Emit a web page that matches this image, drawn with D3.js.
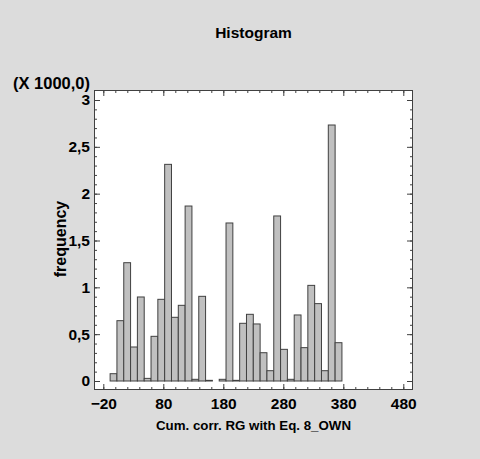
<html>
<head>
<meta charset="utf-8">
<script src="https://d3js.org/d3.v7.min.js"></script>
<style>
  body { margin: 0; background: #dcdcdc; }
  text { font-family: "Liberation Sans", Arial, sans-serif; font-weight: bold; fill: #000; }
</style>
</head>
<body>
<script>
  // histogram: 44 classes from -20 to 480
  const lowerLimit = -20;
  const upperLimit = 480;
  const freq = [0, 78, 644, 1263, 363, 897, 28, 477, 872, 2313, 680,
                808, 1868, 18, 904, 7, 0, 18, 1687, 7, 616,
                712, 609, 302, 110, 1762, 338, 18, 705, 356, 1021,
                826, 110, 2733, 409, 0, 0, 0, 0, 0, 0, 0, 0, 0];
  const xTicks = [-20, 80, 180, 280, 380, 480];
  const yTicks = [0, 500, 1000, 1500, 2000, 2500, 3000];
  const yTickLabels = ["0", "0,5", "1", "1,5", "2", "2,5", "3"];

  const w = 480, h = 459;
  const box = {left: 94, right: 413, top: 90, bottom: 390};

  const binW = (upperLimit - lowerLimit) / freq.length;
  const bins = freq.map((f, i) => ({x0: lowerLimit + i * binW, x1: lowerLimit + (i + 1) * binW, f: f}));

  const xScale = d3.scaleLinear().domain([lowerLimit, upperLimit]).range([103.3, 403.3]);
  const yScale = d3.scaleLinear().domain([0, 3000]).range([381, 100]);

  const svg = d3.select("body").append("svg")
      .attr("width", w).attr("height", h);

  svg.append("rect")
     .attr("x", box.left).attr("y", box.top)
     .attr("width", box.right - box.left).attr("height", box.bottom - box.top)
     .attr("fill", "#fff");

  svg.selectAll("rect.bar")
     .data(bins)
     .enter()
     .append("rect")
     .attr("class", "bar")
     .attr("x", (d) => xScale(d.x0))
     .attr("y", (d) => yScale(d.f))
     .attr("width", (d) => xScale(d.x1) - xScale(d.x0))
     .attr("height", (d) => yScale(0) - yScale(d.f))
     .attr("fill", "#c0c0c0")
     .attr("stroke", "#404040")
     .attr("stroke-width", 1);

  const minorX = d3.range(-20, 481, 20);
  const minorY = d3.range(0, 3001, 100);

  function styleAxis(g) {
    g.select(".domain").remove();
    g.selectAll(".tick line").attr("stroke", "#404040");
    g.selectAll("text").attr("font-size", 15.5).attr("font-family", null).attr("fill", "#000");
  }

  // bottom
  svg.append("g").attr("transform", "translate(0," + box.bottom + ")")
     .call(d3.axisBottom(xScale).tickValues(minorX).tickSize(-3).tickFormat(""))
     .call(styleAxis);
  svg.append("g").attr("transform", "translate(0," + box.bottom + ")")
     .call(d3.axisBottom(xScale).tickValues(xTicks).tickSize(-6).tickPadding(8))
     .call(styleAxis);
  // top
  svg.append("g").attr("transform", "translate(0," + box.top + ")")
     .call(d3.axisTop(xScale).tickValues(minorX).tickSize(-3).tickFormat(""))
     .call(styleAxis);
  svg.append("g").attr("transform", "translate(0," + box.top + ")")
     .call(d3.axisTop(xScale).tickValues(xTicks).tickSize(-6).tickFormat(""))
     .call(styleAxis);
  // left
  svg.append("g").attr("transform", "translate(" + box.left + ",0)")
     .call(d3.axisLeft(yScale).tickValues(minorY).tickSize(-3).tickFormat(""))
     .call(styleAxis);
  svg.append("g").attr("transform", "translate(" + box.left + ",0)")
     .call(d3.axisLeft(yScale).tickValues(yTicks).tickSize(-6).tickPadding(4)
           .tickFormat((d, i) => yTickLabels[i]))
     .call(styleAxis);
  // right
  svg.append("g").attr("transform", "translate(" + box.right + ",0)")
     .call(d3.axisRight(yScale).tickValues(minorY).tickSize(-3).tickFormat(""))
     .call(styleAxis);
  svg.append("g").attr("transform", "translate(" + box.right + ",0)")
     .call(d3.axisRight(yScale).tickValues(yTicks).tickSize(-6).tickFormat(""))
     .call(styleAxis);

  svg.append("rect")
     .attr("x", box.left + 0.5).attr("y", box.top + 0.5)
     .attr("width", box.right - box.left - 1).attr("height", box.bottom - box.top - 1)
     .attr("fill", "none").attr("stroke", "#404040");

  svg.append("text").attr("x", 253.5).attr("y", 38)
     .attr("text-anchor", "middle").attr("font-size", 15.5).text("Histogram");
  svg.append("text").attr("x", 90).attr("y", 89)
     .attr("text-anchor", "end").attr("font-size", 16.5).text("(X 1000,0)");
  svg.append("text").attr("x", 253.5).attr("y", 430)
     .attr("text-anchor", "middle").attr("font-size", 13.3).text("Cum. corr. RG with Eq. 8_OWN");
  svg.append("text").attr("transform", "translate(66,239) rotate(-90)")
     .attr("text-anchor", "middle").attr("font-size", 16).text("frequency");
</script>
</body>
</html>
